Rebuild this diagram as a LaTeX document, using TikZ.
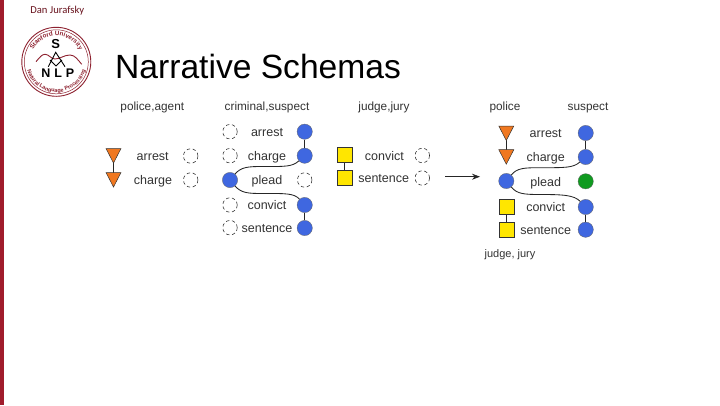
\documentclass[tikz,border=0pt]{standalone}
\usepackage{fontspec}
\setmainfont{Liberation Sans}
\newfontfamily\calfont{Carlito}
\usetikzlibrary{decorations.text,arrows.meta}
\definecolor{maroon}{HTML}{A01C2C}
\definecolor{logored}{HTML}{8E2230}
\definecolor{bluen}{HTML}{3F67E0}
\definecolor{orangen}{HTML}{F07820}
\definecolor{yellown}{HTML}{FFE600}
\definecolor{greenn}{HTML}{109A20}
\definecolor{txt}{HTML}{333333}
\tikzset{
  x=1pt,y=-1pt,
  lab/.style={font=\fontsize{12.5}{13}\selectfont,text=txt,inner sep=0pt,anchor=center,text height=10pt,text depth=2pt},
  hdr/.style={lab,font=\fontsize{11.8}{13}\selectfont},
  emptyn/.style={circle,draw=black!85,dash pattern=on 3.4pt off 2.6pt,line width=.55pt,minimum size=14.5pt,inner sep=0pt},
  bnode/.style={circle,draw=black!60,line width=.3pt,fill=bluen,minimum size=15.3pt,inner sep=0pt},
  gnode/.style={circle,draw=black!60,line width=.3pt,fill=greenn,minimum size=15.3pt,inner sep=0pt},
  sqn/.style={rectangle,draw=black!80,line width=.6pt,fill=yellown,minimum size=15pt,inner sep=0pt},
  trin/.style={inner sep=0pt,minimum size=15pt},
  link/.style={draw=black!85,line width=.85pt}
}
\newcommand{\tripic}[2]{\fill[orangen,draw=black!80,line width=.5pt] (#1-7.5,#2-7) -- (#1+7.5,#2-7) -- (#1,#2+7.5) -- cycle;}
\begin{document}
\begin{tikzpicture}
\useasboundingbox (0,0) rectangle (720,405);
\fill[white] (0,0) rectangle (720,405);
\fill[maroon] (0,0) rectangle (4,405);
\node[font=\calfont\fontsize{10.6}{11}\selectfont,text=maroon!65!black,inner sep=0pt] (author) at (57.3,11) {Dan Jurafsky};
% logo
\coordinate (lc) at (56.3,61.8);
\draw[logored,line width=.9pt] (lc) circle[radius=34.5];
\draw[logored,line width=.5pt] (lc) circle[radius=32];
\path[postaction={decorate,decoration={text along path,text align=center,text={|\color{logored}\fontsize{6.2}{6}\bfseries\selectfont|Stanford University}}}]
  (lc) ++(165:26pt) arc[start angle=165,end angle=15,radius=26pt];
\path[postaction={decorate,decoration={text along path,text align=center,text={|\color{logored}\fontsize{5.5}{6}\bfseries\selectfont|Natural Language Processing}}}]
  (lc) ++(180:30.5pt) arc[start angle=180,end angle=360,radius=30.5pt];
\node[font=\fontsize{13}{14}\bfseries\selectfont,text=black,inner sep=0pt] (logos) at (55.7,44) {S};
\node[font=\fontsize{12.5}{14}\bfseries\selectfont,text=black,inner sep=0pt] (logon) at (46,72.7) {N};
\node[font=\fontsize{12.5}{14}\bfseries\selectfont,text=black,inner sep=0pt] (logol) at (58.3,72.7) {L};
\node[font=\fontsize{12.5}{14}\bfseries\selectfont,text=black,inner sep=0pt] (logop) at (70,72.7) {P};
\draw[logored,line width=.9pt] (36,61.7) .. controls (40,57) and (42,54.3) .. (45,54.3) .. controls (49,54.3) and (51,59) .. (55,59) .. controls (60,59) and (64,55) .. (70,55) .. controls (75,55) and (78,60) .. (81.7,64.3);
\draw[black,line width=.9pt] (48.3,66.7) -- (55.7,52.3) -- (65,66.7) (50,60) -- (56,66) (62,60) -- (56,66);
% title
\node[font=\fontsize{33.6}{36}\selectfont,text=black,inner sep=0pt,anchor=west] (title) at (115,66.5) {Narrative Schemas};
% headers
\node[hdr] (h1) at (152.3,106.7) {police,agent};
\node[hdr] (h2) at (267,106.7) {criminal,suspect};
\node[hdr] (h3) at (384,106.7) {judge,jury};
\node[hdr] (h4) at (505,106.7) {police};
\node[hdr] (h5) at (588,106.7) {suspect};
\node[hdr,font=\fontsize{11}{13}\selectfont] (h6) at (510,253.7) {judge, jury};
% schema 1
\node[trin] (a1) at (113.5,155.5) {};
\node[trin] (a2) at (113.5,179.5) {};
\draw[link] (a1.center) -- (a2.center);
\tripic{113.5}{155.5}\tripic{113.5}{179.5}
\node[lab] (a1t) at (152.7,156) {arrest};
\node[lab] (a2t) at (153,180) {charge};
\node[emptyn] (a1e) at (190.7,156) {};
\node[emptyn] (a2e) at (190.7,180) {};
% schema 2
\foreach \n/\y in {1/131.7,2/155.7,4/205,5/227.7}{\node[emptyn] (bl\n) at (230,\y) {};}
\node[bnode] (bl3) at (230,180) {};
\node[bnode] (br1) at (304.7,131.7) {};
\node[bnode] (br2) at (304.7,155.7) {};
\node[emptyn] (br3) at (304.7,180) {};
\node[bnode] (br4) at (304.7,205) {};
\node[bnode] (br5) at (304.7,228) {};
\draw[link] (br1) -- (br2);
\draw[link] (br4) -- (br5);
\draw[link] (bl3) .. controls (241,167) and (248,166.5) .. (262,166.5) .. controls (285,166.5) and (292,167) .. (br2);
\draw[link] (bl3) .. controls (241,193) and (248,193.5) .. (262,193.5) .. controls (285,193.5) and (294,193) .. (br4);
\node[lab] (b1t) at (267,132) {arrest};
\node[lab] (b2t) at (267,156) {charge};
\node[lab] (b3t) at (267,180.5) {plead};
\node[lab] (b4t) at (267,205.5) {convict};
\node[lab] (b5t) at (267,228.5) {sentence};
% schema 3
\node[sqn] (c1) at (344.7,155) {};
\node[sqn] (c2) at (344.7,177.7) {};
\draw[link] (c1) -- (c2);
\node[lab] (c1t) at (384.3,156) {convict};
\node[lab] (c2t) at (383.7,178.5) {sentence};
\node[emptyn] (c1e) at (422.3,155.5) {};
\node[emptyn] (c2e) at (422.3,178) {};
% arrow
\coordinate (af) at (445,176.7);
\coordinate (at) at (480,176.7);
\draw[black!85,line width=.7pt,-{Stealth[length=8pt,width=6pt]}] (af) -- (at);
% merged
\node[trin] (d1) at (506.3,133) {};
\node[trin] (d2) at (506.3,156.7) {};
\draw[link] (d1.center) -- (d2.center);
\tripic{506.3}{133}\tripic{506.3}{156.7}
\node[bnode] (d3) at (506.3,181) {};
\node[sqn] (d4) at (506.3,206.7) {};
\node[sqn] (d5) at (506.3,229.3) {};
\draw[link] (d4) -- (d5);
\node[bnode] (e1) at (585.7,133) {};
\node[bnode] (e2) at (585.7,157) {};
\node[gnode] (e3) at (585.7,181.3) {};
\node[bnode] (e4) at (585.7,207) {};
\node[bnode] (e5) at (585.7,229.7) {};
\draw[link] (e1) -- (e2);
\draw[link] (e4) -- (e5);
\draw[link] (d3) .. controls (517,168) and (524,167.7) .. (540,167.7) .. controls (565,167.7) and (573,168) .. (e2);
\draw[link] (d3) .. controls (517,194) and (524,194.5) .. (540,194.5) .. controls (563,194.5) and (574,195) .. (e4);
\node[lab] (d1t) at (545.7,133) {arrest};
\node[lab] (d2t) at (545.7,157) {charge};
\node[lab] (d3t) at (545.7,182) {plead};
\node[lab] (d4t) at (545.7,207) {convict};
\node[lab] (d5t) at (545.7,230) {sentence};
\end{tikzpicture}
\end{document}
